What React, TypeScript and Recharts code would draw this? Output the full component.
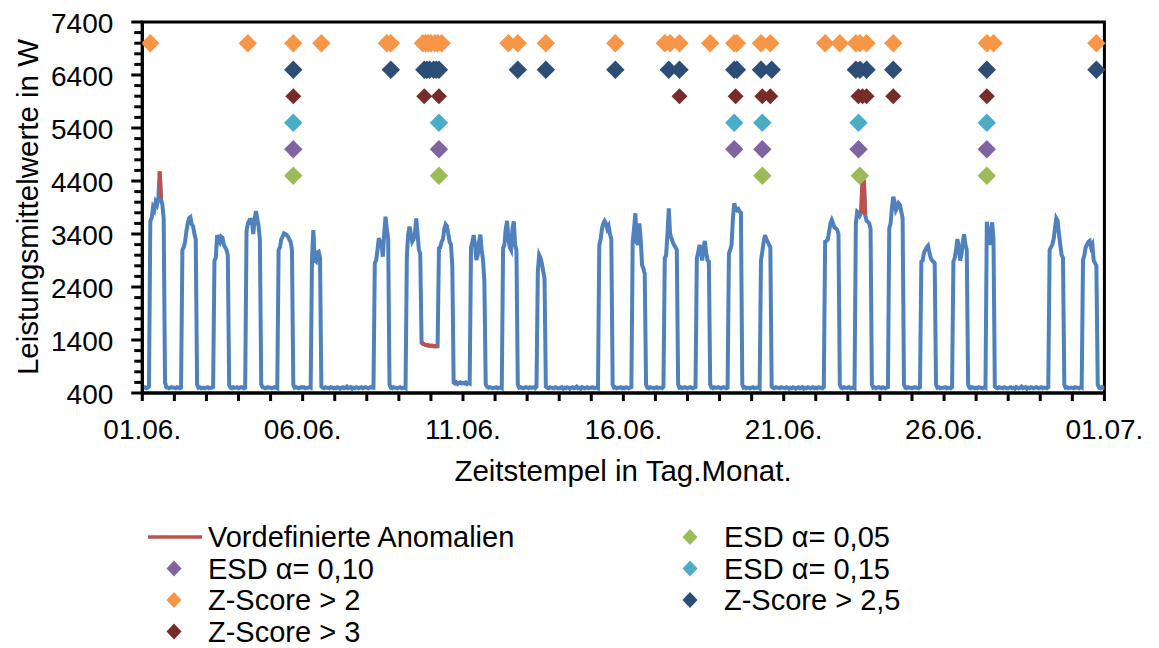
import React from "react";
import { ComposedChart, Line, Scatter, XAxis, YAxis, ReferenceArea } from "recharts";

// hourly mean power in W, one row per day (00:00 .. 23:00)
const weekA = [
  [520, 500, 510, 490, 500, 520, 3650, 3700, 3900, 3850, 4000, 3950, 4070, 4580, 4070, 3950, 3700, 600, 510, 500, 490, 500, 510, 500],
  [500, 490, 510, 500, 490, 500, 3100, 3150, 3250, 3450, 3600, 3700, 3720, 3580, 3550, 3400, 3300, 560, 500, 510, 490, 500, 500, 490],
  [500, 510, 490, 500, 500, 510, 2900, 2950, 3380, 3300, 3250, 3350, 3330, 3200, 3150, 3100, 3000, 550, 500, 490, 510, 500, 500, 510],
  [490, 500, 510, 500, 490, 500, 3450, 3600, 3650, 3620, 3700, 3400, 3650, 3834, 3700, 3550, 3300, 560, 510, 500, 490, 500, 510, 500],
  [500, 490, 500, 510, 500, 490, 3100, 3150, 3300, 3350, 3413, 3400, 3380, 3350, 3300, 3250, 3100, 560, 500, 510, 500, 490, 500, 510],
  [500, 510, 490, 500, 500, 510, 500, 2950, 3476, 2900, 2880, 3050, 3066, 2950, 520, 500, 490, 510, 500, 500, 490, 510, 500, 490],
  [500, 490, 510, 500, 480, 500, 510, 490, 500, 520, 490, 500, 510, 480, 500, 490, 510, 500, 490, 500, 510, 490, 500, 510],
];
const weekB = [
  [500, 490, 500, 510, 500, 500, 2850, 2900, 3100, 3319, 3250, 3200, 2972, 3400, 3727, 3500, 3300, 560, 500, 490, 510, 500, 500, 490],
  [500, 510, 490, 500, 500, 490, 3000, 3400, 3538, 3400, 3255, 3300, 3400, 3696, 3400, 3100, 3036, 1350, 1330, 1320, 1310, 1300, 1300, 1290],
  [1290, 1290, 1280, 1280, 1280, 1280, 3130, 3150, 3255, 3300, 3500, 3583, 3550, 3400, 3250, 3200, 2800, 600, 580, 600, 570, 590, 600, 580],
  [590, 580, 600, 570, 590, 580, 3150, 3250, 3381, 3200, 2910, 3000, 3250, 3387, 3100, 2900, 2500, 560, 520, 500, 510, 500, 490, 500],
  [500, 510, 490, 500, 500, 490, 3130, 3200, 3500, 3646, 3300, 3150, 3098, 3500, 3640, 3200, 3100, 560, 500, 510, 500, 490, 500, 510],
  [500, 490, 510, 500, 500, 510, 490, 520, 2700, 3004, 2950, 2847, 2700, 2565, 520, 500, 490, 510, 500, 500, 490, 510, 500, 490],
  [490, 500, 510, 480, 500, 490, 510, 500, 480, 500, 510, 490, 500, 520, 490, 500, 480, 510, 500, 490, 500, 510, 490, 500],
];
const weekC = [
  [500, 510, 490, 500, 500, 490, 3193, 3300, 3500, 3600, 3646, 3600, 3500, 3550, 3400, 3300, 560, 500, 510, 490, 500, 500, 510, 490],
  [500, 490, 510, 500, 490, 500, 510, 3255, 3500, 3791, 3250, 3193, 3600, 3300, 2815, 2750, 2650, 560, 500, 490, 510, 500, 500, 490],
  [500, 510, 490, 500, 500, 490, 520, 2942, 3000, 3400, 3885, 3400, 3319, 3250, 3193, 3150, 3100, 560, 500, 510, 490, 500, 510, 500],
  [490, 500, 510, 500, 490, 500, 510, 2942, 3050, 3193, 3100, 2900, 3150, 3268, 3050, 2900, 2880, 560, 500, 490, 510, 500, 500, 510],
  [500, 490, 500, 510, 500, 490, 500, 3036, 3100, 3200, 3700, 3980, 3880, 3850, 3870, 3820, 3800, 560, 500, 510, 490, 500, 500, 490],
  [500, 510, 490, 500, 500, 510, 490, 2900, 3067, 3250, 3381, 3300, 3255, 3200, 3150, 520, 500, 490, 510, 500, 500, 490, 510, 500],
  [500, 490, 510, 500, 480, 500, 490, 510, 500, 480, 500, 510, 490, 500, 510, 480, 500, 490, 510, 500, 490, 500, 510, 490],
];
const weekD = [
  [500, 490, 510, 500, 500, 490, 510, 3255, 3270, 3300, 3450, 3600, 3665, 3600, 3520, 3507, 3480, 3400, 560, 500, 490, 510, 500, 500],
  [500, 510, 490, 500, 500, 490, 3600, 3821, 3800, 3750, 3800, 4450, 4400, 3760, 3650, 3632, 3600, 3500, 560, 500, 510, 490, 500, 510],
  [500, 490, 510, 500, 490, 500, 510, 3507, 3600, 3900, 4104, 4000, 3850, 3900, 3980, 3950, 3821, 3700, 560, 500, 490, 510, 500, 500],
  [490, 500, 510, 500, 500, 490, 510, 2878, 2900, 3050, 3100, 3150, 3180, 3050, 2950, 2900, 2880, 2850, 560, 500, 510, 490, 500, 500],
  [500, 510, 490, 500, 500, 490, 510, 2878, 2950, 3100, 3306, 3150, 2900, 3000, 3250, 3394, 3200, 3100, 560, 500, 490, 510, 500, 490],
  [500, 490, 510, 500, 500, 490, 510, 500, 3632, 3400, 3193, 3400, 3620, 3300, 520, 500, 490, 510, 500, 500, 490, 510, 500, 490],
  [490, 500, 510, 490, 500, 480, 510, 500, 490, 500, 520, 490, 500, 510, 480, 500, 490, 510, 500, 490, 500, 510, 500, 490],
];
const weekE = [
  [500, 510, 490, 500, 500, 490, 510, 3098, 3150, 3200, 3300, 3500, 3696, 3650, 3400, 3193, 3000, 2950, 560, 500, 510, 490, 500, 500],
  [500, 490, 510, 500, 500, 490, 510, 500, 2910, 3000, 3150, 3200, 3250, 3268, 3150, 3200, 2900, 2850, 2800, 560, 500, 490, 510, 500],
];
const finalValue = 500; // 01.07. 00:00

// predefined anomalies, [first hour, last hour]
const anomalyRanges = [[13, 14], [209, 221], [538, 541]];

// detected outliers, hour of the flagged value
const esd005Hours = [113, 222, 464, 537, 632];
const esd010Hours = [113, 222, 443, 464, 536, 632];
const esd015Hours = [113, 222, 443, 464, 536, 632];
const z2Hours = [6, 79, 113, 134, 183, 186, 210, 212, 214, 216, 219, 221, 224, 274, 281, 302, 354, 391, 395, 402, 425, 443, 445, 463, 470, 511, 522, 534, 537, 542, 562, 632, 637, 714];
const z25Hours = [113, 186, 211, 213, 215, 218, 220, 222, 281, 302, 354, 394, 402, 443, 445, 463, 471, 534, 537, 542, 562, 632, 714];
const z3Hours = [113, 211, 222, 402, 444, 464, 470, 536, 539, 542, 562, 632];

// row each detector is plotted on
const markerLevels = { esd005: 4500, esd010: 5000, esd015: 5500, z3: 6000, z25: 6500, z2: 7000 };

const dateLabels = ["01.06.", "06.06.", "11.06.", "16.06.", "21.06.", "26.06.", "01.07."];
const yMajorLabels = [400, 1400, 2400, 3400, 4400, 5400, 6400, 7400];

const power = [...weekA, ...weekB, ...weekC, ...weekD, ...weekE].flat().concat(finalValue);
const chartData = power.map((w, t) => ({
  t,
  w,
  anomaly: anomalyRanges.some(([a, b]) => t >= a && t <= b) ? w : null,
}));
const toPoints = (hours: number[], level: number) => hours.map((t) => ({ t, v: level }));

const xTicks = Array.from({ length: 31 }, (_, d) => d * 24);
const yTicks = Array.from({ length: 36 }, (_, i) => 400 + i * 200);

const FONT = "'Liberation Sans', Arial, sans-serif";

const diamond = (r: number, fill: string) => (p: any) => (
  <polygon
    points={`${p.cx},${p.cy - r} ${p.cx + r},${p.cy} ${p.cx},${p.cy + r} ${p.cx - r},${p.cy}`}
    fill={fill}
  />
);

const XTick = ({ x, y, payload }: any) => {
  const day = Math.round(payload.value / 24);
  const label = day % 5 === 0 ? dateLabels[day / 5] : null;
  return (
    <g>
      <line x1={x} x2={x} y1={y} y2={y + 8} stroke="#000" strokeWidth={3} />
      {label && (
        <text x={x} y={y + 36} textAnchor="middle" dominantBaseline="central" fontFamily={FONT} fontSize={28} fill="#000">
          {label}
        </text>
      )}
    </g>
  );
};

const YTick = ({ x, y, payload }: any) => {
  const major = yMajorLabels.includes(payload.value);
  return (
    <g>
      <line x1={x - (major ? 11 : 8)} x2={x} y1={y} y2={y} stroke="#000" strokeWidth={3} />
      {major && (
        <text x={x - 29} y={y + 1} textAnchor="end" dominantBaseline="central" fontFamily={FONT} fontSize={28} fill="#000">
          {payload.value}
        </text>
      )}
    </g>
  );
};

const legendItems = [
  { name: "Vordefinierte Anomalien", color: "#C0504D", kind: "line", col: 0, row: 0 },
  { name: "ESD α= 0,10", color: "#8064A2", kind: "marker", col: 0, row: 1 },
  { name: "Z-Score > 2", color: "#F79646", kind: "marker", col: 0, row: 2 },
  { name: "Z-Score > 3", color: "#772C2A", kind: "marker", col: 0, row: 3 },
  { name: "ESD α= 0,05", color: "#9BBB59", kind: "marker", col: 1, row: 0 },
  { name: "ESD α= 0,15", color: "#4BACC6", kind: "marker", col: 1, row: 1 },
  { name: "Z-Score > 2,5", color: "#2C4D75", kind: "marker", col: 1, row: 2 },
];

function ChartLegend() {
  const colX = [174, 690];
  return (
    <svg width={1159} height={648} style={{ position: "absolute", left: 0, top: 0, pointerEvents: "none" }}>
      {legendItems.map((it) => {
        const cx = colX[it.col];
        const cy = 537 + it.row * 31.5;
        return (
          <g key={it.name}>
            {it.kind === "line" ? (
              <line x1={cx - 26} x2={cx + 28} y1={cy} y2={cy} stroke={it.color} strokeWidth={3.5} />
            ) : (
              <polygon points={`${cx},${cy - 8} ${cx + 7.5},${cy} ${cx},${cy + 8} ${cx - 7.5},${cy}`} fill={it.color} />
            )}
            <text x={cx + 34} y={cy} dominantBaseline="central" fontFamily={FONT} fontSize={29} fill="#000">
              {it.name}
            </text>
          </g>
        );
      })}
    </svg>
  );
}

export default function App() {
  return (
    <div style={{ position: "relative", width: 1159, height: 648, background: "#fff" }}>
      <style>{"body{margin:0}"}</style>
      <ComposedChart
        width={1159}
        height={500}
        data={chartData}
        margin={{ top: 22, right: 54.6, bottom: 0, left: 0 }}
      >
        <XAxis
          dataKey="t"
          type="number"
          domain={[0, 720]}
          ticks={xTicks}
          interval={0}
          tickSize={0}
          tickMargin={0}
          height={107}
          axisLine={{ stroke: "#000", strokeWidth: 3 }}
          tickLine={false}
          tick={<XTick />}
          label={{
            content: () => (
              <text x={623} y={470} textAnchor="middle" dominantBaseline="central" fontFamily={FONT} fontSize={29.5} fill="#000">
                Zeitstempel in Tag.Monat.
              </text>
            ),
          }}
        />
        <YAxis
          type="number"
          domain={[400, 7400]}
          ticks={yTicks}
          interval={0}
          allowDataOverflow
          tickSize={0}
          tickMargin={0}
          width={142.3}
          axisLine={{ stroke: "#000", strokeWidth: 3 }}
          tickLine={false}
          tick={<YTick />}
          label={{
            content: () => (
              <text
                x={27}
                y={207}
                transform="rotate(-90 27 207)"
                textAnchor="middle"
                dominantBaseline="central"
                fontFamily={FONT}
                fontSize={29.5}
                fill="#000"
              >
                Leistungsmittelwerte in W
              </text>
            ),
          }}
        />
        <ReferenceArea x1={0} x2={720} y1={400} y2={7400} fill="none" stroke="#000" strokeWidth={3} ifOverflow="visible" />
        <Line dataKey="w" type="linear" stroke="#4F81BD" strokeWidth={4} dot={false} isAnimationActive={false} />
        <Line dataKey="anomaly" type="linear" stroke="#C0504D" strokeWidth={4} dot={false} connectNulls={false} isAnimationActive={false} />
        <Scatter data={toPoints(esd005Hours, markerLevels.esd005)} dataKey="v" shape={diamond(9.2, "#9BBB59")} isAnimationActive={false} />
        <Scatter data={toPoints(esd010Hours, markerLevels.esd010)} dataKey="v" shape={diamond(9.2, "#8064A2")} isAnimationActive={false} />
        <Scatter data={toPoints(esd015Hours, markerLevels.esd015)} dataKey="v" shape={diamond(9.2, "#4BACC6")} isAnimationActive={false} />
        <Scatter data={toPoints(z2Hours, markerLevels.z2)} dataKey="v" shape={diamond(9.2, "#F79646")} isAnimationActive={false} />
        <Scatter data={toPoints(z25Hours, markerLevels.z25)} dataKey="v" shape={diamond(9.2, "#2C4D75")} isAnimationActive={false} />
        <Scatter data={toPoints(z3Hours, markerLevels.z3)} dataKey="v" shape={diamond(8, "#772C2A")} isAnimationActive={false} />
      </ComposedChart>
      <ChartLegend />
    </div>
  );
}
